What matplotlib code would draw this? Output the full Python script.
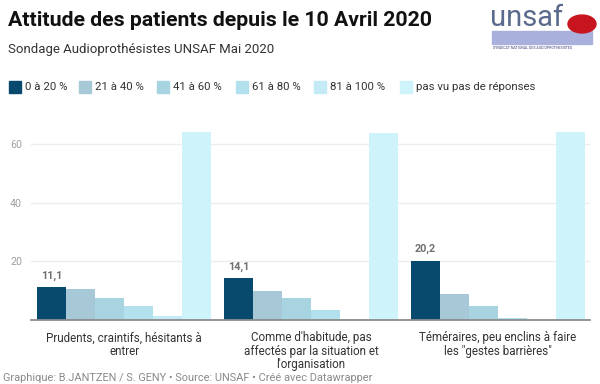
import numpy as np
import matplotlib
matplotlib.use("Agg")
import matplotlib.pyplot as plt
from matplotlib.patches import Rectangle, Circle

plt.rcParams['font.family'] = ['Roboto', 'DejaVu Sans']

# donnees (% de reponses)
categories = ["Prudents, craintifs, hésitants à\nentrer",
              "Comme d'habitude, pas\naffectés par la situation et\nl'organisation",
              "Téméraires, peu enclins à faire\nles \"gestes barrières\""]
series_names = ["0 à 20 %", "21 à 40 %", "41 à 60 %", "61 à 80 %", "81 à 100 %",
                "pas vu pas de réponses"]
v_0_20 = [11.1, 14.1, 20.2]
v_21_40 = [10.5, 9.8, 8.8]
v_41_60 = [7.4, 7.4, 4.6]
v_61_80 = [4.8, 3.1, 0.4]
v_81_100 = [1.1, 0.3, 0.0]
v_pas_vu = [64.4, 63.8, 64.4]
series = [v_0_20, v_21_40, v_41_60, v_61_80, v_81_100, v_pas_vu]
colors = ["#074a6e", "#a6c8d7", "#a8d4e2", "#b3e0ed", "#c4eaf5", "#cff3fb"]
yticks = [20, 40, 60]

W, H = 600, 384
fig = plt.figure(figsize=(6, 3.84), dpi=100)

def fx(px):
    return px / W

def fy(py):
    return 1 - py / H

# zone du graphique
ax_left, ax_right, ax_base = 31, 590, 319.5
ymax = 66
ppu = 175 / 60.0
ax_top = ax_base - ymax * ppu
ax = fig.add_axes([fx(ax_left), fy(ax_base), fx(ax_right - ax_left), (ax_base - ax_top) / H])

x = np.arange(len(categories))
bw = 29 / 186.7
for i, (vals, col) in enumerate(zip(series, colors)):
    ax.bar(x + (i - 2.5) * bw, vals, width=bw, color=col, zorder=2, linewidth=0)

# etiquette de valeur sur la premiere serie
for xi, v in zip(x, v_0_20):
    ax.annotate(f"{v:.1f}".replace(".", ","), (xi - 2.5 * bw, v), xytext=(0, 4.5),
                textcoords="offset points", ha="center", va="bottom",
                fontsize=7.8, fontweight="bold", color="#707070")

ax.set_xlim(-0.5, 2.494)
ax.set_ylim(0, ymax)
for s in ["top", "right", "left"]:
    ax.spines[s].set_visible(False)
ax.spines["bottom"].set_color("#8c8c8c")
ax.spines["bottom"].set_linewidth(1.3)
ax.spines["bottom"].set_zorder(3)
ax.set_yticks(yticks)
ax.set_yticklabels([str(t) for t in yticks])
ax.tick_params(axis="y", length=0, labelsize=7.7, labelcolor="#a0a0a0")
for lab in ax.get_yticklabels():
    lab.set_horizontalalignment("left")
ax.yaxis.set_tick_params(pad=15)
ax.grid(axis="y", color="#ededed", linewidth=1, zorder=0)
ax.set_xticks(x)
ax.set_xticklabels(categories, fontsize=8.4, color="#333333", linespacing=1.03, va="top")
ax.tick_params(axis="x", length=0, pad=8.5)

# titre et sous-titre
fig.text(fx(8), fy(20), "Attitude des patients depuis le 10 Avril 2020", fontsize=15.3,
         fontweight="bold", color="#111111", va="center", ha="left")
fig.text(fx(8), fy(50), "Sondage Audioprothésistes UNSAF Mai 2020", fontsize=9.5,
         color="#333333", va="center", ha="left")

# legende
leg_x = [9, 79, 157, 236, 314, 400]
for lx, name, col in zip(leg_x, series_names, colors):
    fig.patches.append(Rectangle((fx(lx), fy(93)), fx(12), 12 / H, color=col,
                                 transform=fig.transFigure, figure=fig))
    fig.text(fx(lx + 16), fy(87), name, fontsize=8.2, color="#333333", va="center", ha="left")

# logo unsaf (approximatif)
fig.patches.append(Rectangle((fx(492), fy(44)), fx(100), 13 / H, color="#aab0dc",
                             transform=fig.transFigure, figure=fig))
fig.text(fx(490), fy(18), "unsaf", fontsize=21, color="#5b6a8c", va="center", ha="left")
fig.patches.append(Circle((fx(582), fy(24)), 14 / W, color="#c8141e",
                          transform=fig.transFigure, figure=fig))
fig.text(fx(493), fy(48), "SYNDICAT NATIONAL DES AUDIOPROTHESISTES", fontsize=2.6,
         color="#3a3f7a", va="center", ha="left")

# source
fig.text(fx(3), fy(378), "Graphique: B.JANTZEN / S. GENY • Source: UNSAF • Créé avec Datawrapper",
         fontsize=7.9, color="#8a8a8a", va="center", ha="left")

fig.savefig("out.png", dpi=100, facecolor="white")
